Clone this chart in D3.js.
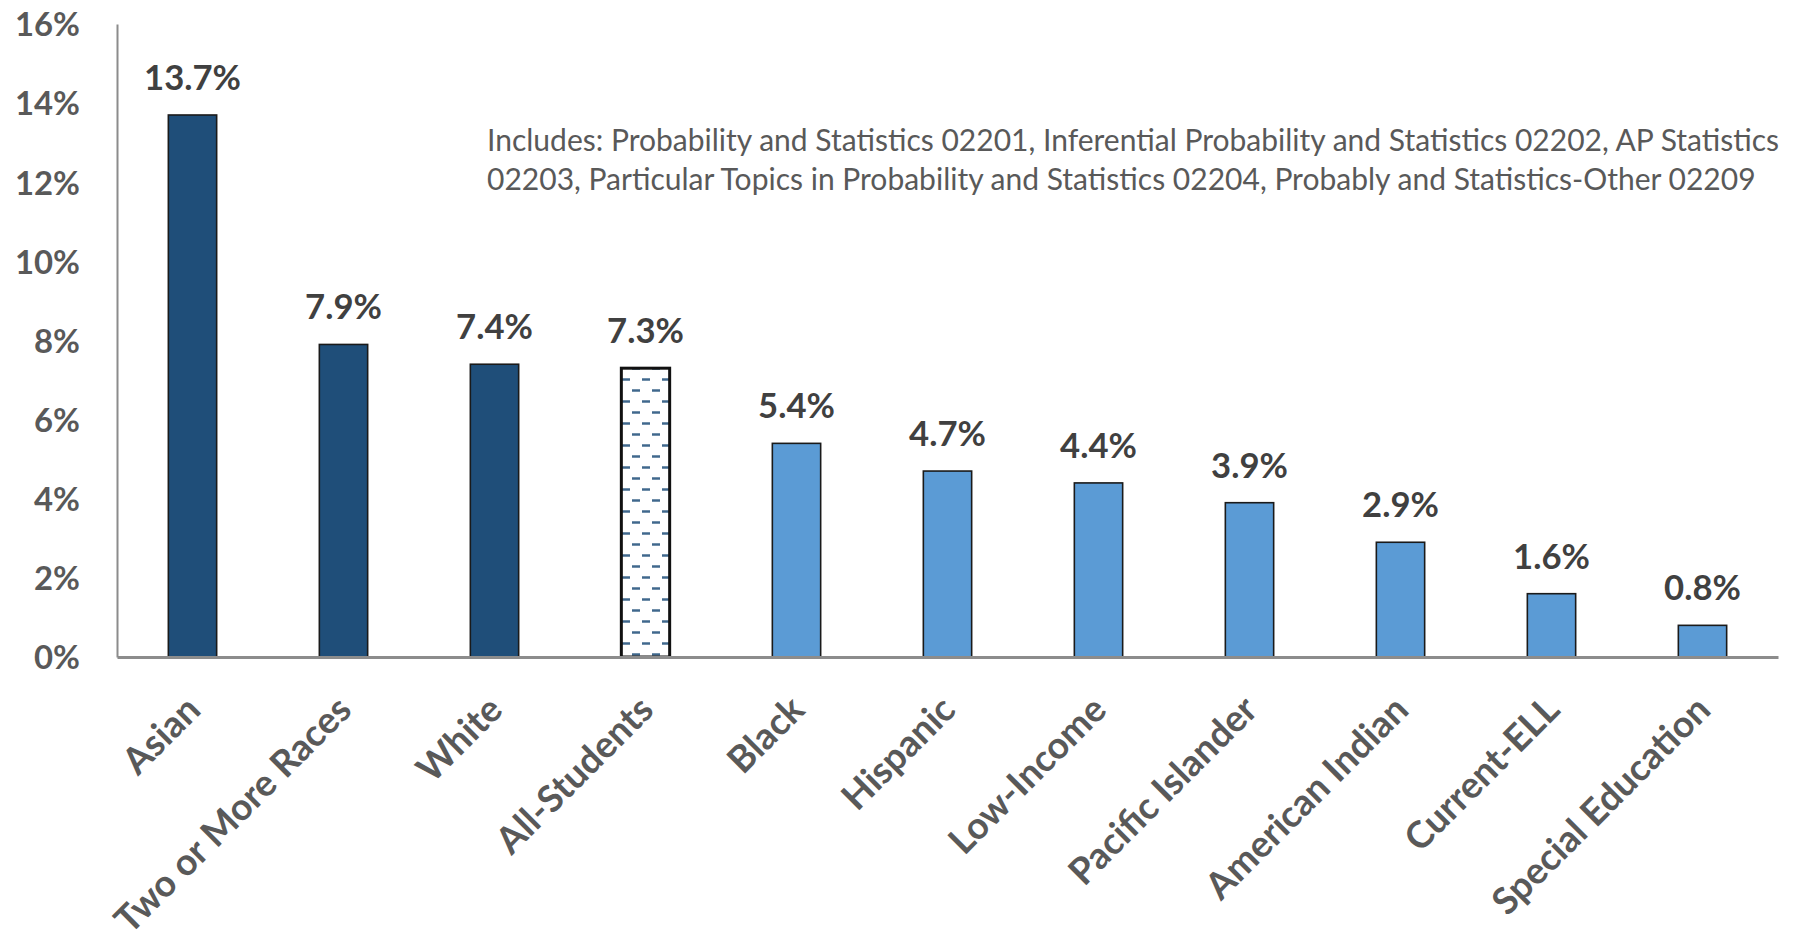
<!DOCTYPE html>
<html>
<head>
<meta charset="utf-8">
<script src="https://cdn.jsdelivr.net/npm/d3@7"></script>
<style>
  html, body { margin: 0; padding: 0; background: #fff; }
  svg { display: block; }
</style>
</head>
<body>
<svg id="chart" width="1795" height="937"></svg>
<script>
const categories = ["Asian", "Two or More Races", "White", "All-Students", "Black", "Hispanic",
  "Low-Income", "Pacific Islander", "American Indian", "Current-ELL", "Special Education"];
const values = [13.7, 7.9, 7.4, 7.3, 5.4, 4.7, 4.4, 3.9, 2.9, 1.6, 0.8];
const referenceCategory = "All-Students";
const yTicks = [0, 2, 4, 6, 8, 10, 12, 14, 16];
const noteLines = [
  "Includes: Probability and Statistics 02201, Inferential Probability and Statistics 02202, AP Statistics",
  "02203, Particular Topics in Probability and Statistics 02204, Probably and Statistics-Other 02209"
];

const FONT = "Lato, 'Open Sans', sans-serif";
const DARK = "#1f4e79", LIGHT = "#5b9bd5", TEXT = "#595959", VALTEXT = "#404040";

const svg = d3.select("#chart");

// helper: font size so that a sample string spans a target width
function fitSize(sample, weight, target) {
  const t = svg.append("text").attr("font-family", FONT).attr("font-weight", weight)
    .attr("font-size", 100).text(sample);
  const w = t.node().getComputedTextLength();
  t.remove();
  return 100 * target / w;
}
const tickSize = fitSize("16%", 700, 65);
const valSize = fitSize("13.7%", 700, 97);
const catSize = fitSize("Special Education", 700, 290);
const noteSize = fitSize(noteLines[0], 400, 1293);

const x = d3.scaleBand().domain(categories).range([117, 1778]).paddingInner(0.68).paddingOuter(0.34);
const y = d3.scaleLinear().domain([0, 16]).range([657, 24]);

const refValue = values[categories.indexOf(referenceCategory)];
const data = categories.map((c, i) => ({ c, v: values[i] }));

// pattern for reference bar
const defs = svg.append("defs");
const pat = defs.append("pattern").attr("id", "dashPat").attr("patternUnits", "userSpaceOnUse")
  .attr("width", 20).attr("height", 22).attr("x", 0).attr("y", 0);
pat.append("rect").attr("width", 20).attr("height", 22).attr("fill", "#fff");
pat.append("line").attr("x1", 2).attr("x2", 10).attr("y1", 5.5).attr("y2", 5.5)
  .attr("stroke", DARK).attr("stroke-width", 2.5).attr("stroke-opacity", 0.85);
pat.append("line").attr("x1", 12).attr("x2", 20).attr("y1", 16.5).attr("y2", 16.5)
  .attr("stroke", DARK).attr("stroke-width", 2.5).attr("stroke-opacity", 0.85);

// bars
svg.append("g").selectAll("rect").data(data).join("rect")
  .attr("x", d => x(d.c))
  .attr("y", d => y(d.v))
  .attr("width", x.bandwidth())
  .attr("height", d => y(0) - y(d.v))
  .attr("fill", d => d.c === referenceCategory ? "url(#dashPat)" : (d.v > refValue ? DARK : LIGHT))
  .attr("stroke", d => d.c === referenceCategory ? "#111" : "#1a1a1a")
  .attr("stroke-width", d => d.c === referenceCategory ? 3 : 1.6);

// axes
const yAxis = d3.axisLeft(y).tickValues(yTicks).tickFormat(d => d + "%").tickSize(0).tickPadding(37);
const gy = svg.append("g").attr("transform", "translate(117,0)").call(yAxis);
gy.select(".domain").attr("stroke", "#8c8c8c").attr("stroke-width", 2);
gy.selectAll("text").attr("font-family", FONT).attr("font-weight", 700)
  .attr("font-size", tickSize).attr("fill", TEXT).attr("dy", "0.36em");

const xAxis = d3.axisBottom(x).tickSize(0).tickSizeOuter(0);
const gx = svg.append("g").attr("transform", `translate(0,${y(0)})`).call(xAxis);
gx.select(".domain").attr("stroke", "#8c8c8c").attr("stroke-width", 3);
gx.selectAll(".tick text")
  .attr("font-family", FONT).attr("font-weight", 700).attr("font-size", catSize)
  .attr("fill", TEXT).attr("text-anchor", "end")
  .attr("y", 0).attr("dy", 0)
  .attr("transform", "translate(10,55) rotate(-45)");

// value labels
svg.append("g").selectAll("text").data(data).join("text")
  .attr("x", d => x(d.c) + x.bandwidth() / 2)
  .attr("y", d => y(d.v) - 25)
  .attr("text-anchor", "middle")
  .attr("font-family", FONT).attr("font-weight", 700).attr("font-size", valSize)
  .attr("fill", VALTEXT)
  .text(d => d.v.toFixed(1) + "%");

// note
svg.append("g").selectAll("text").data(noteLines).join("text")
  .attr("x", 487).attr("y", (d, i) => 151 + i * 39)
  .attr("font-family", FONT).attr("font-weight", 400).attr("font-size", noteSize)
  .attr("fill", TEXT).text(d => d);
</script>
</body>
</html>
